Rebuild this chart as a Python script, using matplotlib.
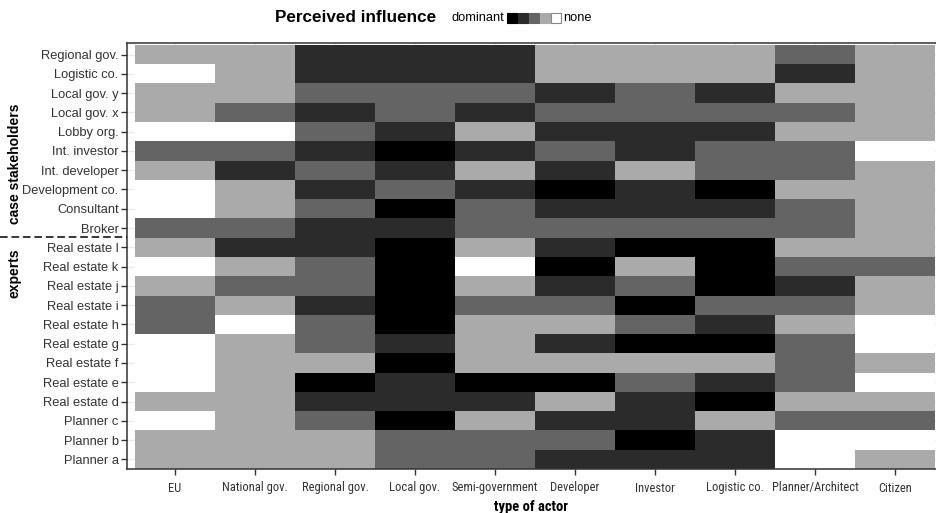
import matplotlib
matplotlib.use("Agg")
import matplotlib.pyplot as plt
from matplotlib.colors import ListedColormap, BoundaryNorm
from matplotlib.patches import Rectangle
from matplotlib.lines import Line2D
from matplotlib import font_manager
import numpy as np

actors = ["EU", "National gov.", "Regional gov.", "Local gov.", "Semi-government",
          "Developer", "Investor", "Logistic co.", "Planner/Architect", "Citizen"]

stakeholders = ["Regional gov.", "Logistic co.", "Local gov. y", "Local gov. x", "Lobby org.",
                "Int. investor", "Int. developer", "Development co.", "Consultant", "Broker",
                "Real estate l", "Real estate k", "Real estate j", "Real estate i", "Real estate h",
                "Real estate g", "Real estate f", "Real estate e", "Real estate d",
                "Planner c", "Planner b", "Planner a"]

# influence level: 4 dominant ... 0 none
influence = [
    [1, 1, 3, 3, 3, 1, 1, 1, 2, 1],
    [0, 1, 3, 3, 3, 1, 1, 1, 3, 1],
    [1, 1, 2, 2, 2, 3, 2, 3, 1, 1],
    [1, 2, 3, 2, 3, 2, 2, 2, 2, 1],
    [0, 0, 2, 3, 1, 3, 3, 3, 1, 1],
    [2, 2, 3, 4, 3, 2, 3, 2, 2, 0],
    [1, 3, 2, 3, 1, 3, 1, 2, 2, 1],
    [0, 1, 3, 2, 3, 4, 3, 4, 1, 1],
    [0, 1, 2, 4, 2, 3, 3, 3, 2, 1],
    [2, 2, 3, 3, 2, 2, 2, 2, 2, 1],
    [1, 3, 3, 4, 1, 3, 4, 4, 1, 1],
    [0, 1, 2, 4, 0, 4, 1, 4, 2, 2],
    [1, 2, 2, 4, 1, 3, 2, 4, 3, 1],
    [2, 1, 3, 4, 2, 2, 4, 2, 2, 1],
    [2, 0, 2, 4, 1, 1, 2, 3, 1, 0],
    [0, 1, 2, 3, 1, 3, 4, 4, 2, 0],
    [0, 1, 1, 4, 1, 1, 1, 1, 2, 1],
    [0, 1, 4, 3, 4, 4, 2, 3, 2, 0],
    [1, 1, 3, 3, 3, 1, 3, 4, 1, 1],
    [0, 1, 2, 4, 1, 3, 3, 1, 2, 2],
    [1, 1, 1, 2, 2, 2, 4, 3, 0, 0],
    [1, 1, 1, 2, 2, 3, 3, 3, 0, 1],
]

level_colors = ["#ffffff", "#aaaaaa", "#646464", "#2b2b2b", "#000000"]
n_case = 10

plt.rcParams['font.family'] = ['Liberation Sans', 'DejaVu Sans']

# pick a condensed family if one is installed
names = {f.name for f in font_manager.fontManager.ttflist}
cond_family = None
cond_size = 7.5
cond_stretch = 'normal'
for cand in ["Liberation Sans Narrow", "DejaVu Sans Condensed", "Roboto Condensed",
             "Open Sans Condensed", "Arial Narrow"]:
    if cand in names:
        cond_family = cand
        cond_size = 9.0
        break
if cond_family is None:
    for f in font_manager.fontManager.ttflist:
        if 'ondensed' in f.name or 'arrow' in f.name or f.stretch in ('condensed', 'semi-condensed'):
            cond_family = f.name
            cond_stretch = f.stretch
            cond_size = 9.0
            break
if cond_family is None:
    cond_family = 'Liberation Sans'

fig = plt.figure(figsize=(9.36, 5.13), dpi=100)
W, H = 936, 513
ax = fig.add_axes([127 / W, 1 - 469 / H, (936 - 127) / W, (469 - 43) / H])

data = np.array(influence)
nrows, ncols = data.shape
cmap = ListedColormap(level_colors)
norm = BoundaryNorm(np.arange(-0.5, 5.5, 1), cmap.N)
ax.pcolormesh(np.arange(ncols + 1) - 0.5, np.arange(nrows + 1) - 0.5, data,
              cmap=cmap, norm=norm, zorder=2)

ax.set_xlim(-0.6, 9.5 + 0.0125)
ax.set_ylim(nrows - 0.5, -0.6)
ax.set_xticks(range(ncols))
ax.set_xticklabels(actors, family=cond_family, stretch=cond_stretch, fontsize=cond_size, color="#333333")
ax.set_yticks(range(nrows))
ax.set_yticklabels(stakeholders, fontsize=9.3, color="#333333")
ax.tick_params(axis='both', length=4, width=1, color="#333333", pad=2)
ax.tick_params(axis='x', pad=5)
ax.grid(True, color="#ebebeb", linewidth=1, zorder=0)
ax.set_axisbelow(True)
for s in ax.spines.values():
    s.set_color("#333333")
    s.set_linewidth(1.1)
    s.set_zorder(5)
ax.spines['right'].set_visible(False)

ax.set_xlabel("type of actor", fontsize=10.5, fontweight='bold',
              family=cond_family, stretch=cond_stretch, labelpad=4)

# dashed separator between groups
fig.lines.append(Line2D([0, 127 / W], [1 - 237 / H, 1 - 237 / H], transform=fig.transFigure,
                        color="black", linestyle=(0, (5, 2.5)), linewidth=1.1))

fig.text(15 / W, 1 - 164 / H, "case stakeholders", rotation=90, ha='center', va='center',
         fontsize=10, fontweight='bold')
fig.text(15 / W, 1 - 273 / H, "experts", rotation=90, ha='center', va='center',
         fontsize=10, fontweight='bold')

# title + legend
fig.text(275 / W, 1 - 18 / H, "Perceived influence", ha='left', va='center',
         fontsize=12.3, fontweight='bold')
fig.text(451 / W, 1 - 18 / H, "dominant", ha='left', va='center', fontsize=9.3)
sq = 10
x0 = 507
for i, c in enumerate(level_colors[::-1]):
    fig.patches.append(Rectangle(((x0 + i * (sq + 1)) / W, 1 - (18 + sq / 2) / H), sq / W, sq / H,
                                 transform=fig.transFigure, facecolor=c,
                                 edgecolor="#888888" if c == "#ffffff" else c, linewidth=0.8))
fig.text((x0 + 5 * (sq + 1) + 1) / W, 1 - 18 / H, "none", ha='left', va='center', fontsize=9.3)

fig.savefig("out.png", dpi=100)
